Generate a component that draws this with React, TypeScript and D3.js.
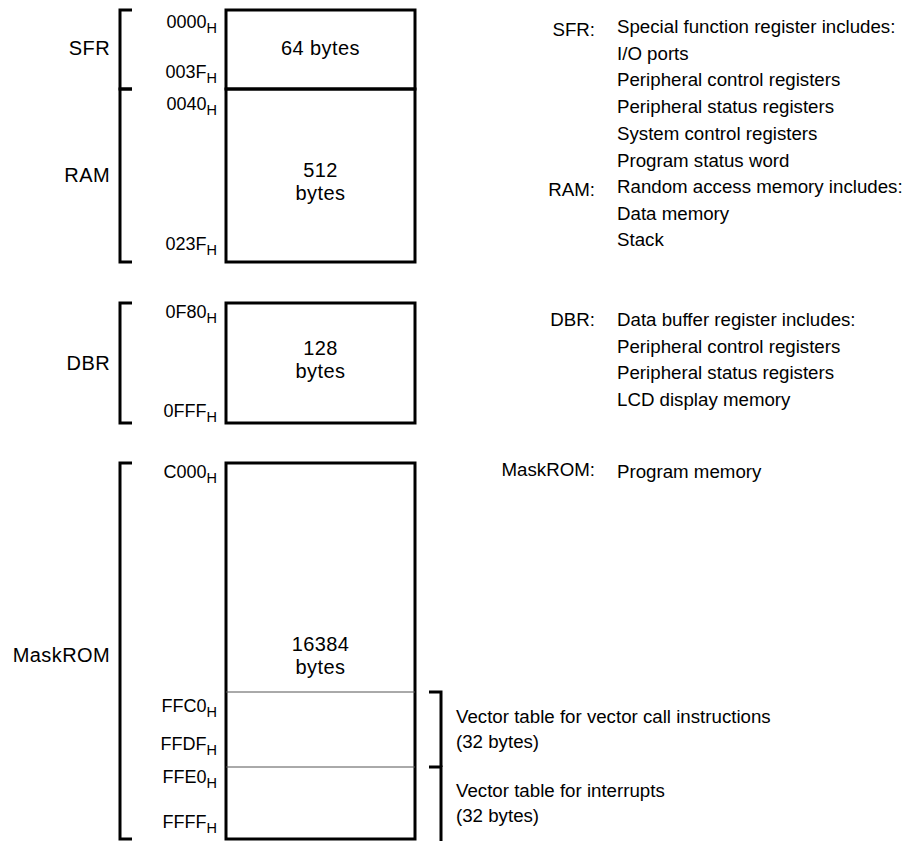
import * as d3 from 'd3';

// memory regions, top to bottom
const REGIONS = ['SFR', 'RAM', 'DBR', 'MaskROM'];
const START_ADDR = ['0000', '0040', '0F80', 'C000'];
const END_ADDR = ['003F', '023F', '0FFF', ''];
const SIZE_LINES = [['64 bytes'], ['512', 'bytes'], ['128', 'bytes'], ['16384', 'bytes']];
const DESC_TITLES = [
  'Special function register includes:',
  'Random access memory includes:',
  'Data buffer register includes:',
  'Program memory',
];
const DESC_ITEMS = [
  ['I/O ports', 'Peripheral control registers', 'Peripheral status registers', 'System control registers', 'Program status word'],
  ['Data memory', 'Stack'],
  ['Peripheral control registers', 'Peripheral status registers', 'LCD display memory'],
  [],
];

// vector tables at the end of MaskROM
const VEC_START = ['FFC0', 'FFE0'];
const VEC_END = ['FFDF', 'FFFF'];
const VEC_DESC = ['Vector table for vector call instructions', 'Vector table for interrupts'];
const VEC_SIZE = ['(32 bytes)', '(32 bytes)'];

// layout (pixels)
const W = 902;
const H = 841;
const BOX_L = 226;
const BOX_R = 415;
const BRK_X = 120;
const BRK_TICK = 12;
const ADDR_X = 217;
const NAME_X = 110;
const BLOCK_TOP = [10, 89, 303, 463];
const BLOCK_BOTTOM = [89, 262, 423, 839];
const START_DY = [18, 21, 15, 15];
const END_DY = [-11, -12, -6, 0];
const SIZE_Y = [55, 177, 355, 651];
const NAME_Y = [55, 182, 370, 662];
const DESC_Y = [33, 193, 326, 478];
const DESC_LABEL_DY = [3, 3, 0, -2];
const VEC_TOP = [692, 767];
const VEC_BOTTOM = [767, 841];
const VEC_START_Y = [712, 783];
const VEC_END_Y = [750, 828];
const VEC_TEXT_Y = [723, 797];
const VEC_BRK_X = 441;

const FONT = '"Liberation Sans", Arial, Helvetica, sans-serif';
const FS_BIG = 20;
const FS = 18.7;
const FS_ADDR = 18;
const LINE = 26.7;

const descLine = d3.scaleLinear().domain([0, 1]).range([0, LINE]);

function Addr({ x, y, v }: { x: number; y: number; v: string }) {
  return (
    <text x={x} y={y} textAnchor="end" fontSize={FS_ADDR}>
      {v}
      <tspan fontSize={14.5} dy={5}>H</tspan>
    </text>
  );
}

function Bracket({ x, y0, y1, dir, bottom = true }: { x: number; y0: number; y1: number; dir: 1 | -1; bottom?: boolean }) {
  const path = d3.path();
  path.moveTo(x + dir * BRK_TICK, y0);
  path.lineTo(x, y0);
  path.lineTo(x, y1);
  if (bottom) path.lineTo(x + dir * BRK_TICK, y1);
  return <path d={path.toString()} fill="none" stroke="#000" strokeWidth={3} />;
}

export default function App() {
  return (
    <svg width={W} height={H} style={{ position: 'absolute', left: 0, top: 0, background: '#fff' }} fontFamily={FONT} fill="#000">
      {REGIONS.map((name, i) => {
        const top = BLOCK_TOP[i];
        const bot = BLOCK_BOTTOM[i];
        const cx = (BOX_L + BOX_R) / 2;
        return (
          <g key={name}>
            <rect x={BOX_L} y={top} width={BOX_R - BOX_L} height={bot - top} fill="none" stroke="#000" strokeWidth={3} />
            <Bracket x={BRK_X} y0={top} y1={bot} dir={1} />
            <text x={NAME_X} y={NAME_Y[i]} textAnchor="end" fontSize={FS_BIG} letterSpacing={0.4}>{name}</text>
            <Addr x={ADDR_X} y={top + START_DY[i]} v={START_ADDR[i]} />
            {END_ADDR[i] && <Addr x={ADDR_X} y={bot + END_DY[i]} v={END_ADDR[i]} />}
            {SIZE_LINES[i].map((s, j) => (
              <text key={j} x={cx} y={SIZE_Y[i] + j * 23} textAnchor="middle" fontSize={FS_BIG} letterSpacing={0.4}>{s}</text>
            ))}
            <text x={595} y={DESC_Y[i] + DESC_LABEL_DY[i]} textAnchor="end" fontSize={FS}>{name}:</text>
            {[DESC_TITLES[i], ...DESC_ITEMS[i]].map((s, j) => (
              <text key={j} x={617} y={DESC_Y[i] + descLine(j)} fontSize={FS}>{s}</text>
            ))}
          </g>
        );
      })}
      {VEC_START.map((v, i) => (
        <g key={v}>
          <line x1={BOX_L} x2={BOX_R} y1={VEC_TOP[i]} y2={VEC_TOP[i]} stroke="#555" strokeWidth={1} />
          <Addr x={ADDR_X} y={VEC_START_Y[i]} v={v} />
          <Addr x={ADDR_X} y={VEC_END_Y[i]} v={VEC_END[i]} />
          <Bracket x={VEC_BRK_X} y0={VEC_TOP[i]} y1={VEC_BOTTOM[i]} dir={-1} bottom={false} />
          <text x={456} y={VEC_TEXT_Y[i]} fontSize={FS}>{VEC_DESC[i]}</text>
          <text x={456} y={VEC_TEXT_Y[i] + 25} fontSize={FS}>{VEC_SIZE[i]}</text>
        </g>
      ))}
    </svg>
  );
}
